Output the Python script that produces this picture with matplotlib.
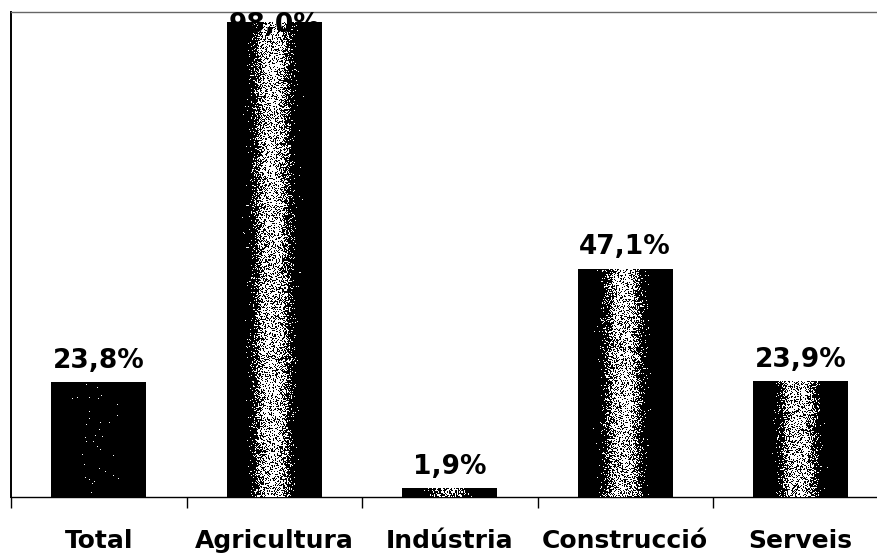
import numpy as np
import matplotlib
matplotlib.use('Agg')
import matplotlib.pyplot as plt

plt.rcParams['font.family'] = ['DejaVu Sans']

# Share of temporary contracts by sector (%)
sectors = ['Total', 'Agricultura', 'Indústria', 'Construcció', 'Serveis']
values = [23.8, 98.0, 1.9, 47.1, 23.9]
labels = ['23,8%', '98,0%', '1,9%', '47,1%', '23,9%']
# brightness of the light streak inside each bar
glow = [0.01, 0.72, 0.6, 0.72, 0.72]

W, H, DPI = 878, 554, 100
fig = plt.figure(figsize=(W / DPI, H / DPI), dpi=DPI)
ax = fig.add_axes([11 / W, 57 / H, 877.5 / W, 485 / H])

x = np.arange(len(sectors))
bw = 0.54
bars = ax.bar(x, values, width=bw, color='black', zorder=2)

# dithered shading: dark edges, light grainy streak in the middle
rng = np.random.default_rng(3)
px_per_unit = 485 / 100
for b, g in zip(bars, glow):
    h_px = max(int(b.get_height() * px_per_unit), 2)
    w_px = 95
    t = np.linspace(0, 1, w_px)
    prof = g * np.exp(-np.abs((t - 0.48) / 0.17) ** 3)
    noise = rng.random((h_px, w_px))
    img = (noise < prof[None, :]).astype(float)
    x0, y0 = b.get_x(), b.get_y()
    im = ax.imshow(img, cmap='gray', vmin=0, vmax=1, aspect='auto',
                   interpolation='nearest', zorder=3,
                   extent=(x0, x0 + b.get_width(), y0, y0 + b.get_height()))
    im.set_clip_path(b)

# value labels; the tallest one is pulled inside the frame
for xi, v, lab in zip(x, values, labels):
    ax.text(xi, min(v + 2.9, 95.9), lab, ha='center', va='baseline',
            fontsize=19, fontweight='bold', color='black', zorder=4)

ax.set_xlim(-0.5, len(sectors) - 0.5)
ax.set_ylim(0, 100)

ax.set_xticks(x)
ax.set_xticklabels(sectors, fontsize=18, fontweight='bold')
ax.set_xticks(np.arange(-0.5, len(sectors)), minor=True)
ax.tick_params(axis='x', which='major', length=0, pad=23)
ax.tick_params(axis='x', which='minor', length=8, width=1, direction='out', color='black')
ax.set_yticks([])

ax.spines['left'].set_linewidth(1.4)
ax.spines['bottom'].set_linewidth(1.0)
ax.spines['top'].set_color('#666666')
ax.spines['top'].set_linewidth(1.0)
ax.spines['right'].set_visible(False)

fig.savefig('out.png', dpi=DPI)
plt.close(fig)
